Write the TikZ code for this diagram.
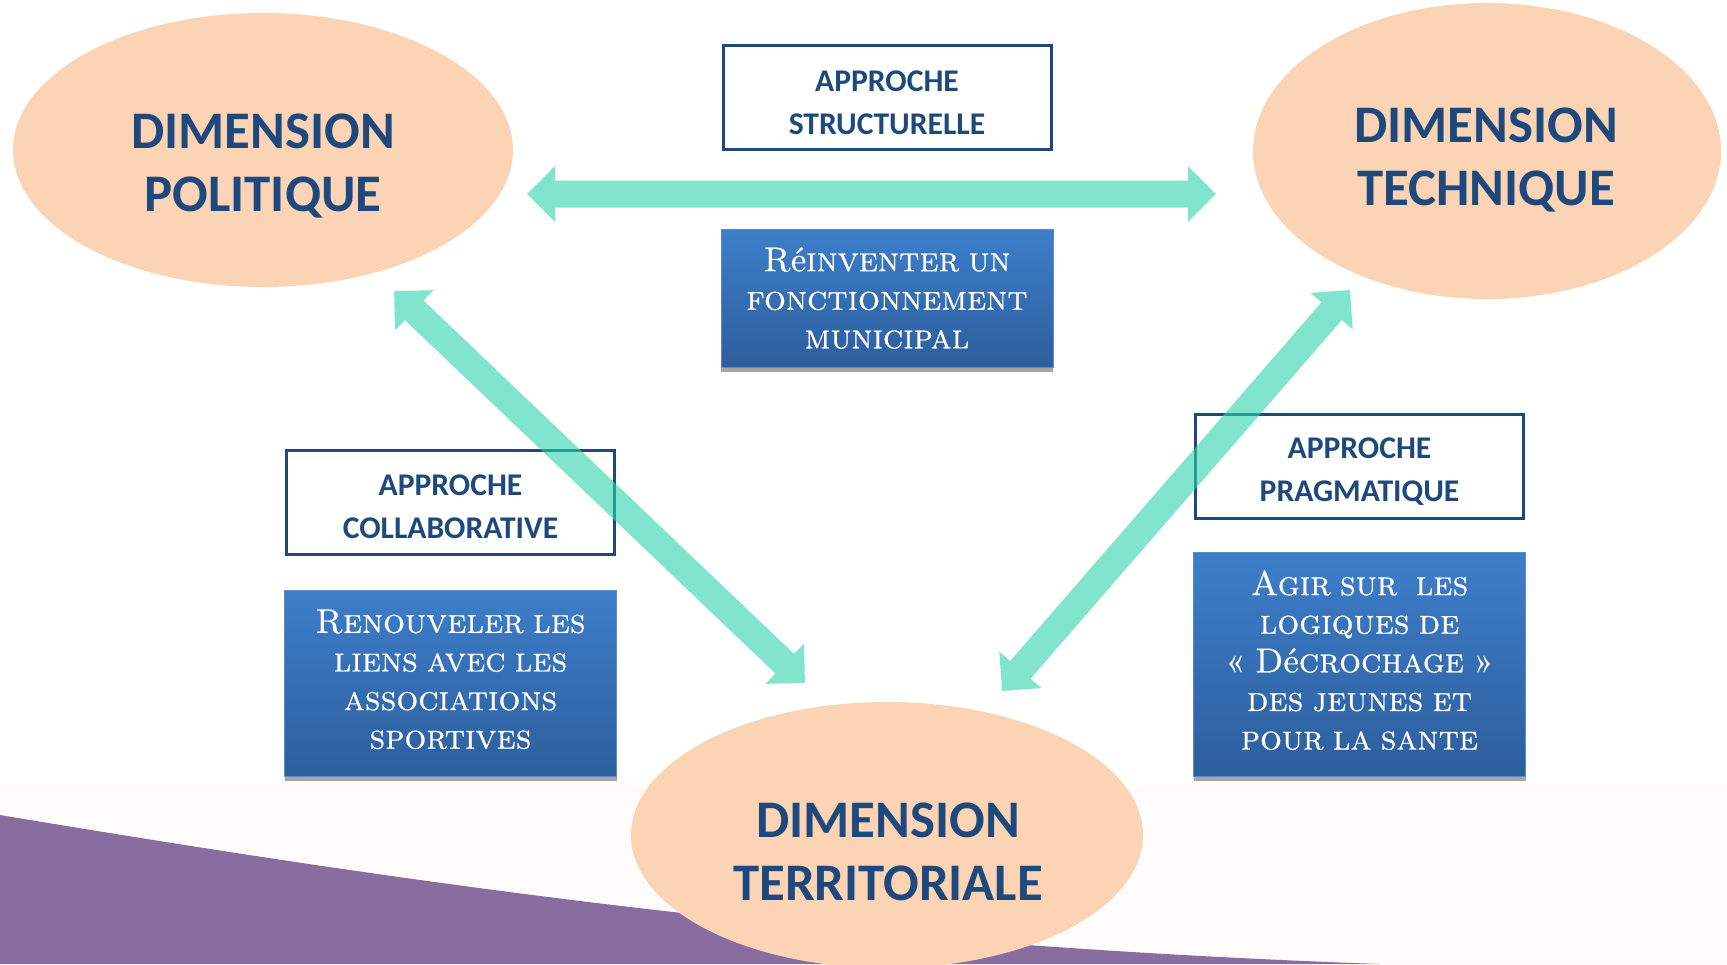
\documentclass[tikz,border=0pt]{standalone}
\usepackage{fontspec}
\newfontfamily\carl{Carlito}
\newfontfamily\boxcaps{lmromancaps10-regular.otf}[FakeBold=0.6, WordSpace=0.7]
\newfontfamily\boxlow{lmroman10-regular.otf}[FakeBold=0.6, WordSpace=0.7]
\usetikzlibrary{arrows.meta,shapes.geometric,shadows}
\definecolor{peach}{RGB}{250,212,180}
\definecolor{navy}{RGB}{31,73,125}
\definecolor{tealarrow}{RGB}{43,212,170}
\definecolor{boxtop}{RGB}{61,126,202}
\definecolor{boxbot}{RGB}{45,94,157}
\definecolor{boxedge}{RGB}{90,140,200}
\definecolor{purp}{RGB}{137,108,160}
\definecolor{cream}{RGB}{253,252,250}
\definecolor{shadowgray}{RGB}{165,165,165}
\newcommand{\lowe}{{\boxlow é}}
\begin{document}
\begin{tikzpicture}[x=0.5pt,y=-0.5pt,
  dimel/.style={ellipse, fill=peach, inner sep=0},
  dimtext/.style={anchor=north, align=center, inner sep=0, text=navy,
    font=\carl\bfseries\fontsize{26.4}{31.5}\selectfont},
  approche/.style={draw=navy, line width=1.5pt, rectangle, minimum width=164pt,
    minimum height=52pt, inner sep=0},
  apptext/.style={align=center, inner sep=0, text=navy,
    font=\carl\bfseries\fontsize{15.8}{21.5}\selectfont},
  bluebox/.style={rectangle, top color=boxtop, bottom color=boxbot, draw=boxedge,
    line width=0.5pt, minimum width=166pt, inner sep=0, align=center, text=white,
    font=\boxcaps\fontsize{17.2}{19.3}\selectfont,
    drop shadow={shadow xshift=0pt, shadow yshift=-2.5pt, fill=shadowgray, opacity=1}},
  bigarrow/.style={line width=13.5pt, color=tealarrow,
    {Triangle[width=27pt,length=14pt]}-{Triangle[width=27pt,length=14pt]}}
]
\useasboundingbox (0,0) rectangle (1727,964);
% background
\fill[cream] (0,788) rectangle (1727,964);
\fill[purp] (0,815) .. controls (450,890) and (850,945) .. (1380,964) -- (0,964) -- cycle;

% ellipses
\node[dimel, minimum width=250pt, minimum height=137pt] (pol) at (263,150) {};
\node[dimel, minimum width=234pt, minimum height=148pt] (tech) at (1487,151) {};
\node[dimel, minimum width=256pt, minimum height=133pt] (terr) at (887,835) {};
\node[dimtext] (poltxt) at (263,113) {DIMENSION\\POLITIQUE};
\node[dimtext] (techtxt) at (1486,107) {DIMENSION\\TECHNIQUE};
\node[dimtext] (terrtxt) at (888,802) {DIMENSION\\TERRITORIALE};

% approach boxes
\node[approche] (struct) at (887,97.5) {};
\node[approche] (collab) at (450.5,502) {};
\node[approche] (prag) at (1359.5,466.5) {};
\node[apptext] (structtxt) at ([yshift=-2.5pt]struct.center) {APPROCHE\\STRUCTURELLE};
\node[apptext] (collabtxt) at ([yshift=-2.5pt]collab.center) {APPROCHE\\COLLABORATIVE};
\node[apptext] (pragtxt) at ([yshift=-2.5pt]prag.center) {APPROCHE\\PRAGMATIQUE};

% blue boxes
\node[bluebox, minimum height=69pt] (reinv) at (887,298) {R\lowe inventer un\\fonctionnement\\municipal};
\node[bluebox, minimum height=93pt, text depth=4pt] (renouv) at (450.5,683) {Renouveler les\\liens avec les\\associations\\sportives};
\node[bluebox, minimum height=112pt, text depth=4pt] (agir) at (1359.5,664) {Agir sur~ les\\logiques de\\« D\lowe crochage »\\des jeunes et\\pour la sante};

% arrows
\coordinate (hl) at (527,194);
\coordinate (hr) at (1216,194);
\coordinate (dl1) at (394,291);
\coordinate (dl2) at (805,683);
\coordinate (dr1) at (1350,290);
\coordinate (dr2) at (1002,691);
\begin{scope}[transparency group, opacity=0.6]
\draw[bigarrow] (hl) -- (hr);
\draw[bigarrow] (dl1) -- (dl2);
\draw[bigarrow] (dr1) -- (dr2);
\end{scope}
\end{tikzpicture}
\end{document}
